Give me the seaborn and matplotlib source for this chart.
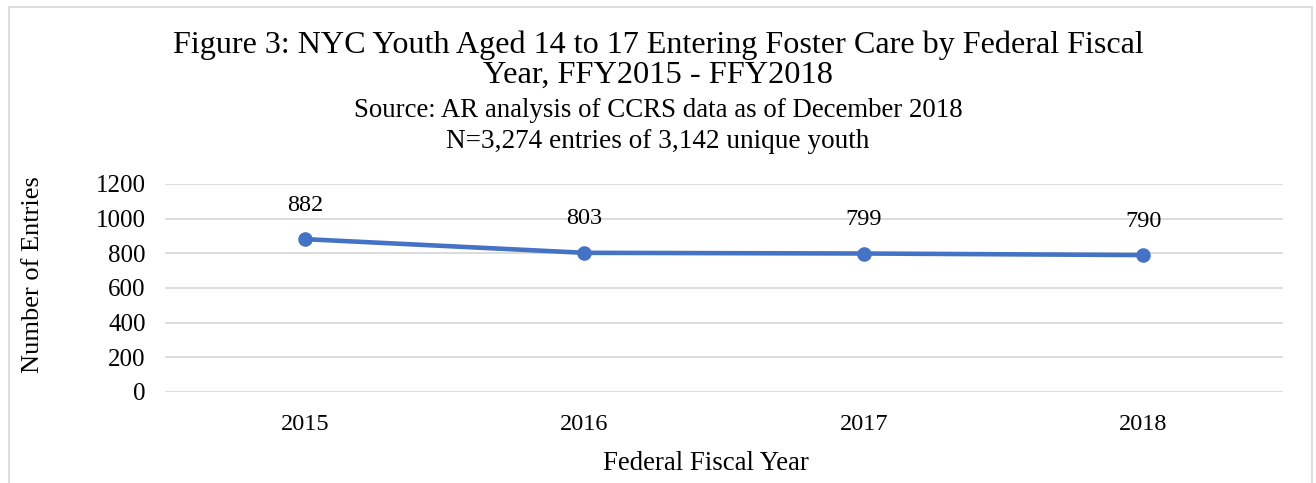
import matplotlib
matplotlib.use("Agg")
import matplotlib.pyplot as plt
import matplotlib.patches as mpatches
import seaborn as sns
import pandas as pd

years = ["2015", "2016", "2017", "2018"]
entries = [882, 803, 799, 790]
yticks = [0, 200, 400, 600, 800, 1000, 1200]

title_line1 = "Figure 3: NYC Youth Aged 14 to 17 Entering Foster Care by Federal Fiscal"
title_line2 = "Year, FFY2015 - FFY2018"
subtitle1 = "Source: AR analysis of CCRS data as of December 2018"
subtitle2 = "N=3,274 entries of 3,142 unique youth"
xlabel = "Federal Fiscal Year"
ylabel = "Number of Entries"

sns.set_theme(style="white")
plt.rcParams["font.family"] = ["Liberation Serif", "DejaVu Serif"]
plt.rcParams["text.color"] = "black"

W, H = 1316, 483
fig = plt.figure(figsize=(W / 100, H / 100), dpi=100)
ax = fig.add_axes([165 / W, 1 - 392 / H, (1283 - 165) / W, (392 - 184) / H])

df = pd.DataFrame({"year": years, "entries": entries})
color = "#4472C4"
sns.lineplot(data=df, x="year", y="entries", ax=ax, color=color, linewidth=3.3,
             marker="o", markersize=10.5, markeredgewidth=0, sort=False)

ax.set_xlim(-0.5, len(years) - 0.5)
ax.set_ylim(yticks[0], yticks[-1])
ax.set_yticks(yticks)
ax.yaxis.grid(True, color="#D9D9D9", linewidth=1.3)
ax.xaxis.grid(False)
for s in ax.spines.values():
    s.set_visible(False)
ax.tick_params(axis="y", length=0, pad=14, labelsize=18, labelcolor="black")
ax.tick_params(axis="x", length=0, pad=16, labelsize=17.5, labelcolor="black")
ax.set_xlabel("")
ax.set_ylabel("")

for i, v in enumerate(entries):
    ax.annotate(str(v), (i, v), xytext=(0, 24.5), textcoords="offset points",
                ha="center", va="center", fontsize=17.5, color="black")

fig.text(0.5, 1 - 45 / H, title_line1, ha="center", va="center", fontsize=23.1)
fig.text(0.5, 1 - 75 / H, title_line2, ha="center", va="center", fontsize=23.3)
fig.text(0.5, 1 - 110 / H, subtitle1, ha="center", va="center", fontsize=19.4)
fig.text(0.5, 1 - 141 / H, subtitle2, ha="center", va="center", fontsize=19.6)
fig.text(706 / W, 1 - 463 / H, xlabel, ha="center", va="center", fontsize=19.4)
fig.text(33 / W, 1 - 275 / H, ylabel, ha="center", va="center", rotation=90, fontsize=19)

border = mpatches.Rectangle((9 / W, -0.05), (1312 - 9) / W, 1.05 - 7 / H,
                            transform=fig.transFigure, fill=False,
                            edgecolor="#D9D9D9", linewidth=1.3)
fig.patches.append(border)

fig.savefig("out.png", dpi=100)
